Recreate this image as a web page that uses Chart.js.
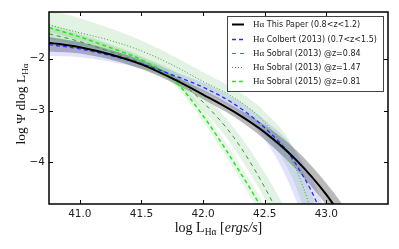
<!DOCTYPE html>
<html>
<head>
<meta charset="utf-8">
<script src="https://cdn.jsdelivr.net/npm/chart.js@4.4.1/dist/chart.umd.min.js"></script>
<style>
  html, body { margin: 0; padding: 0; background: #fff; }
</style>
</head>
<body>
<canvas id="myChart" width="399" height="249"></canvas>
<script>
// values (log L_Ha grid, log Phi)
const lumX = [40.75, 41.0, 41.25, 41.5, 41.75, 42.0, 42.25, 42.5, 42.75, 43.0, 43.25, 43.5];

const thisPaper   = [-1.69, -1.78, -1.92, -2.11, -2.38, -2.69, -3.02, -3.42, -3.94, -4.62, -5.5, -6.4];
const thisPaperHi = [-1.58, -1.68, -1.83, -2.03, -2.31, -2.60, -2.92, -3.28, -3.75, -4.40, -5.2, -6.0];
const thisPaperLo = [-1.86, -1.90, -2.02, -2.20, -2.46, -2.78, -3.12, -3.56, -4.12, -4.82, -5.7, -6.7];

const colbert   = [-1.73, -1.81, -1.94, -2.10, -2.31, -2.55, -2.87, -3.33, -4.02, -5.3, -8.0, -12];
const colbertHi = [-1.58, -1.68, -1.83, -2.01, -2.23, -2.46, -2.76, -3.18, -3.78, -5.0, -7.5, -11];
const colbertLo = [-1.95, -1.97, -2.06, -2.19, -2.39, -2.64, -2.98, -3.55, -4.70, -6.6, -10, -13];

const sobral13a   = [-1.52, -1.67, -1.87, -2.08, -2.33, -2.84, -3.52, -4.48, -5.7, -7.2, -9.5, -12];
const sobral13aHi = [-1.38, -1.54, -1.74, -1.96, -2.22, -2.68, -3.33, -4.20, -5.3, -6.8, -9, -12];
const sobral13aLo = [-1.66, -1.80, -1.99, -2.20, -2.46, -3.00, -3.72, -4.70, -5.9, -7.6, -10, -13];

const sobral13b   = [-1.35, -1.50, -1.65, -1.85, -2.12, -2.44, -2.75, -3.23, -4.10, -6.0, -9, -13];
const sobral13bHi = [-1.05, -1.22, -1.42, -1.65, -1.94, -2.26, -2.58, -3.02, -3.80, -5.6, -8.5, -12];
const sobral13bLo = [-1.62, -1.74, -1.87, -2.04, -2.29, -2.61, -2.93, -3.45, -4.45, -6.5, -9.5, -13.5];

const sobral15   = [-1.40, -1.58, -1.79, -2.02, -2.38, -3.10, -4.00, -5.0, -6.3, -8, -10, -13];
const sobral15Hi = [-1.33, -1.51, -1.72, -1.95, -2.30, -2.99, -3.86, -4.83, -6.1, -7.8, -9.8, -12.8];
const sobral15Lo = [-1.47, -1.65, -1.86, -2.09, -2.46, -3.21, -4.14, -5.17, -6.5, -8.2, -10.2, -13.2];

const xTicks = [41.0, 41.5, 42.0, 42.5, 43.0];
const yTicks = [-4, -3, -2];

const legendLabels = [
    ' This Paper (0.8<z<1.2)',
    ' Colbert (2013) (0.7<z<1.5)',
    ' Sobral (2013) @z=0.84',
    ' Sobral (2013) @z=1.47',
    ' Sobral (2015) @z=0.81'
];

function pts(ys) {
    return lumX.map(function (x, i) { return {x: x, y: ys[i]}; });
}

function line(label, ys, color, width, dash, order) {
    return {
        label: label, data: pts(ys), borderColor: color, borderWidth: width,
        borderDash: dash, pointRadius: 0, fill: false, order: order,
        cubicInterpolationMode: 'monotone', clip: 0
    };
}

function band(hi, lo, color) {
    return [{
        data: pts(hi), borderColor: 'rgba(0,0,0,0)', borderWidth: 0, pointRadius: 0,
        fill: '+1', backgroundColor: color, order: 20, cubicInterpolationMode: 'monotone', clip: 0
    }, {
        data: pts(lo), borderColor: 'rgba(0,0,0,0)', borderWidth: 0, pointRadius: 0,
        fill: false, order: 20, cubicInterpolationMode: 'monotone', clip: 0
    }];
}

const styles = [
    {color: '#000000', width: 2, dash: []},
    {color: '#2a2aff', width: 1.3, dash: [4, 3]},
    {color: '#3a8f3a', width: 1, dash: [4, 4]},
    {color: '#3a9a3a', width: 1, dash: [1, 2]},
    {color: '#1aee1a', width: 1.5, dash: [4, 3]}
];

const datasets = [
    line(legendLabels[0], thisPaper, styles[0].color, styles[0].width, styles[0].dash, 0),
    line(legendLabels[1], colbert, styles[1].color, styles[1].width, styles[1].dash, 1),
    line(legendLabels[2], sobral13a, styles[2].color, styles[2].width, styles[2].dash, 3),
    line(legendLabels[3], sobral13b, styles[3].color, styles[3].width, styles[3].dash, 4),
    line(legendLabels[4], sobral15, styles[4].color, styles[4].width, styles[4].dash, 2)
].concat(
    band(sobral13bHi, sobral13bLo, 'rgba(40,160,40,0.13)'),
    band(sobral13aHi, sobral13aLo, 'rgba(40,160,40,0.13)'),
    band(sobral15Hi, sobral15Lo, 'rgba(40,160,40,0.10)'),
    band(colbertHi, colbertLo, 'rgba(60,60,255,0.15)'),
    band(thisPaperHi, thisPaperLo, 'rgba(0,0,0,0.27)')
);

function drawMath(ctx, parts, x, y) {
    // parts: [text, font, dy]
    let w = 0;
    parts.forEach(function (p) { ctx.font = p[1]; w += ctx.measureText(p[0]).width; });
    let cx = x - w / 2;
    parts.forEach(function (p) {
        ctx.font = p[1];
        ctx.fillText(p[0], cx, y + (p[2] || 0));
        cx += ctx.measureText(p[0]).width;
    });
}

const framePlugin = {
    id: 'frame',
    afterDraw: function (chart) {
        const ctx = chart.ctx;
        const a = chart.chartArea;
        const xs = chart.scales.x, ys = chart.scales.y;
        ctx.save();
        ctx.strokeStyle = '#000';
        ctx.lineWidth = 1;
        // inner ticks on all four sides
        xTicks.forEach(function (v) {
            const px = Math.round(xs.getPixelForValue(v)) + 0.5;
            ctx.beginPath();
            ctx.moveTo(px, a.bottom); ctx.lineTo(px, a.bottom - 4);
            ctx.moveTo(px, a.top); ctx.lineTo(px, a.top + 4);
            ctx.stroke();
        });
        yTicks.forEach(function (v) {
            const py = Math.round(ys.getPixelForValue(v)) + 0.5;
            ctx.beginPath();
            ctx.moveTo(a.left, py); ctx.lineTo(a.left + 4, py);
            ctx.moveTo(a.right, py); ctx.lineTo(a.right - 4, py);
            ctx.stroke();
        });
        ctx.lineWidth = 1.5;
        ctx.strokeRect(a.left, a.top, a.right - a.left, a.bottom - a.top);

        // legend
        const lx = 227, ly = 16, lw = 156, lh = 75;
        ctx.fillStyle = '#fff';
        ctx.fillRect(lx, ly, lw, lh);
        ctx.lineWidth = 1;
        ctx.strokeStyle = '#444';
        ctx.strokeRect(lx + 0.5, ly + 0.5, lw, lh);
        const rows = [24, 39, 53, 67, 81];
        rows.forEach(function (ry, i) {
            const s = styles[i];
            ctx.beginPath();
            ctx.strokeStyle = s.color;
            ctx.lineWidth = s.width;
            ctx.setLineDash(s.dash);
            ctx.moveTo(232, ry + 0.5); ctx.lineTo(244, ry + 0.5);
            ctx.stroke();
            ctx.setLineDash([]);
            ctx.fillStyle = '#222';
            ctx.textBaseline = 'middle';
            ctx.textAlign = 'left';
            ctx.font = '9px "Liberation Serif"';
            ctx.fillText('H\u03b1', 253, ry + 0.5);
            const hw = ctx.measureText('H\u03b1').width;
            ctx.font = '8px "DejaVu Sans"';
            ctx.fillText(legendLabels[i], 253 + hw, ry + 0.5);
        });

        // axis titles
        ctx.fillStyle = '#111';
        ctx.textBaseline = 'alphabetic';
        ctx.textAlign = 'left';
        drawMath(ctx, [
            ['log L', '14px "Liberation Serif"', 0],
            ['H\u03b1', '9.5px "Liberation Serif"', 3],
            [' [', '14px "Liberation Serif"', 0],
            ['ergs/s', 'italic 14px "Liberation Serif"', 0],
            [']', '14px "Liberation Serif"', 0]
        ], (a.left + a.right) / 2, 232);

        ctx.translate(25, 104);
        ctx.rotate(-Math.PI / 2);
        drawMath(ctx, [
            ['log \u03a8 dlog L', '13.5px "Liberation Serif"', 0],
            ['H\u03b1', '9px "Liberation Serif"', 3]
        ], 0, 0);
        ctx.restore();
    }
};

const ctx = document.getElementById('myChart');
const myChart = new Chart(ctx, {
    type: 'line',
    data: { datasets: datasets },
    options: {
        responsive: false,
        animation: false,
        devicePixelRatio: 1,
        layout: { padding: { top: 12, right: 11, left: 0, bottom: 0 } },
        plugins: { legend: { display: false }, tooltip: { enabled: false } },
        scales: {
            x: {
                type: 'linear', min: 40.75, max: 43.5,
                grid: { display: false, drawTicks: false },
                border: { display: false },
                afterBuildTicks: function (s) { s.ticks = xTicks.map(function (v) { return {value: v}; }); },
                afterFit: function (s) { s.height = 45; },
                ticks: {
                    padding: 4, color: '#222', maxRotation: 0,
                    font: { family: 'DejaVu Sans', size: 10.5 },
                    callback: function (v) { return Number(v).toFixed(1); }
                }
            },
            y: {
                type: 'linear', min: -4.8, max: -1.1,
                grid: { display: false, drawTicks: false },
                border: { display: false },
                afterBuildTicks: function (s) { s.ticks = yTicks.map(function (v) { return {value: v}; }); },
                afterFit: function (s) { s.width = 49; },
                ticks: {
                    padding: 4, color: '#222',
                    font: { family: 'DejaVu Sans', size: 10.5 },
                    callback: function (v) { return '\u2212' + Math.abs(v); }
                }
            }
        }
    },
    plugins: [framePlugin]
});
</script>
</body>
</html>
